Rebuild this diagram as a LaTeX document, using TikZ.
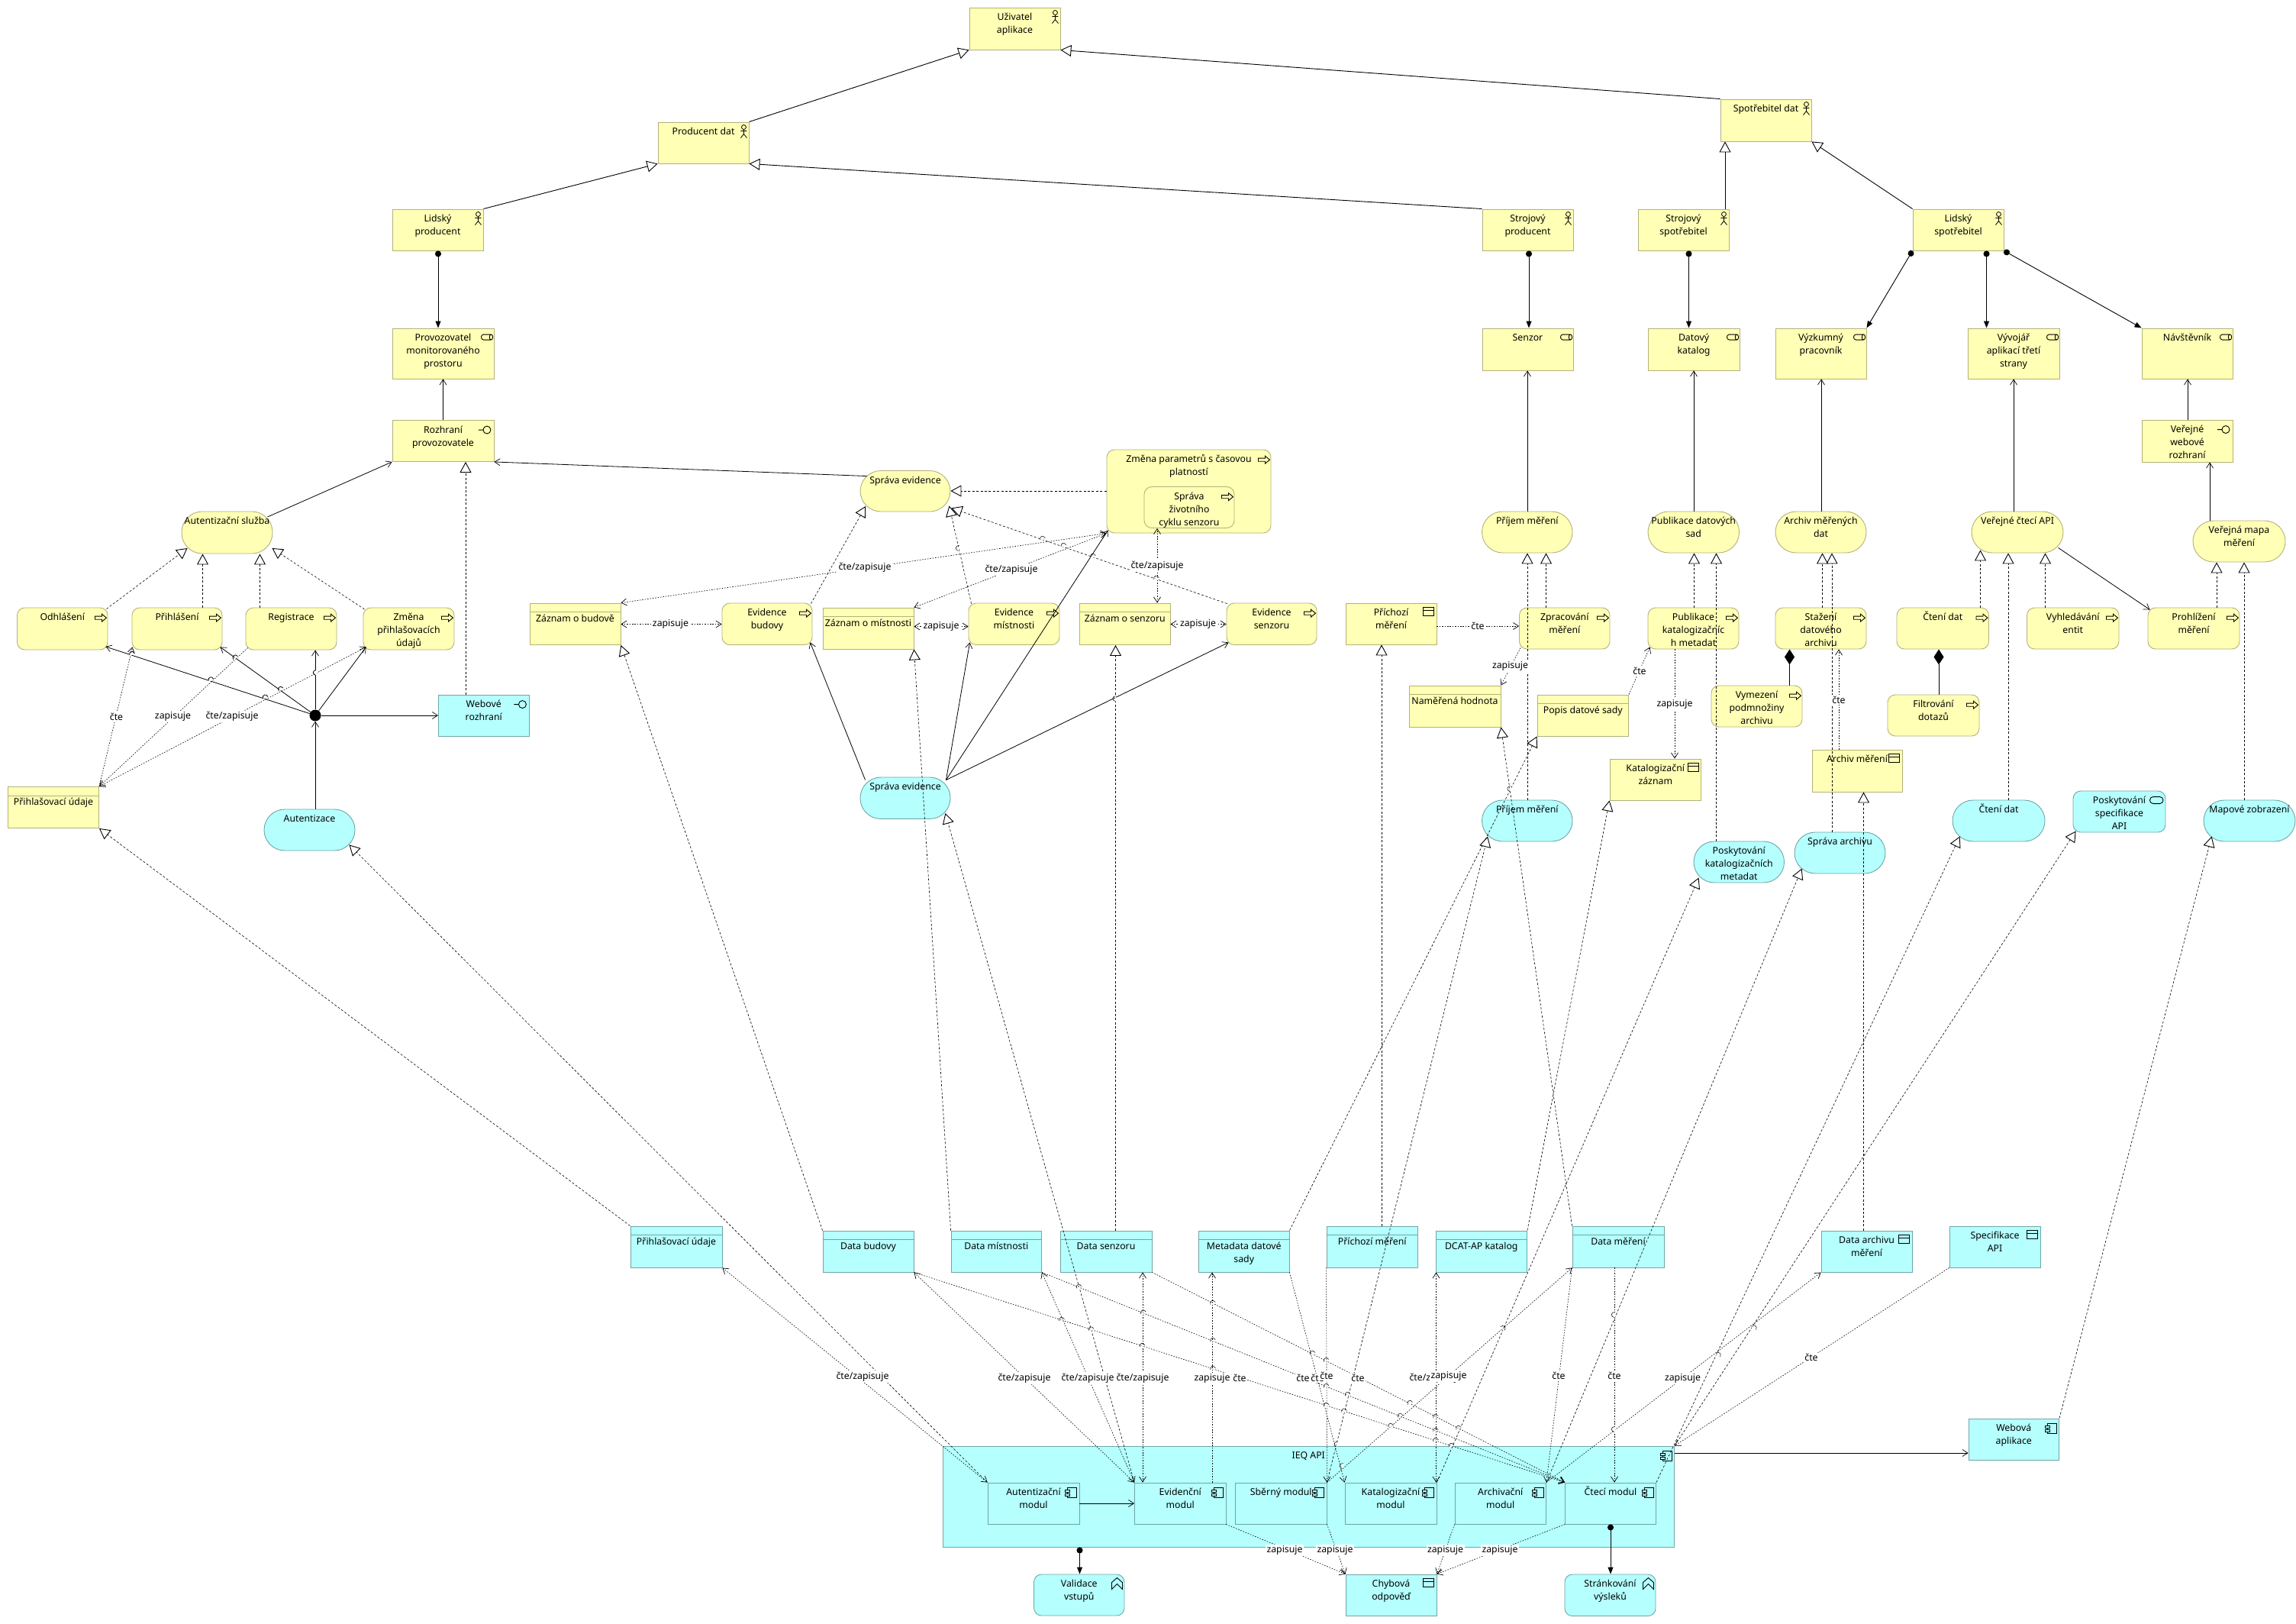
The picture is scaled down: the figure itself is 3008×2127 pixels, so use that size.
\documentclass[tikz,border=0pt]{standalone}
\usepackage{fontspec}
\setmainfont{Noto Sans}
\usetikzlibrary{arrows.meta,calc}
\definecolor{yf}{RGB}{255,255,181}
\definecolor{yl}{RGB}{178,178,126}
\definecolor{bf}{RGB}{181,255,255}
\definecolor{bl}{RGB}{112,166,166}
\colorlet{hdryel}{yl}
\colorlet{hdrblu}{bl}
\tikzset{
 elt/.style={draw,inner sep=0pt,line width=.9pt,rectangle},
 yel/.style={elt,fill=yf,draw=yl},
 blu/.style={elt,fill=bf,draw=bl},
 rc/.style={rounded corners=10pt},
 pill/.style={rounded corners=27pt},
 txt/.style={inner sep=0pt,align=center,font=\fontsize{12.3}{17}\selectfont,text=black},
 lbl/.style={inner sep=1.5pt,fill=white,align=center,font=\fontsize{12.3}{17}\selectfont,text=black},
 ic/.style={line width=.9pt,draw=black},
 gen/.style={line width=.9pt,-{Triangle[open,fill=white,length=14pt,width=15pt,line width=.9pt]}},
 real/.style={line width=.6pt,dash pattern=on 3pt off 2.4pt,-{Triangle[open,fill=white,length=14pt,width=15pt,line width=.9pt]}},
 asg/.style={line width=.9pt,{Circle[length=8pt]}-{Triangle[length=9pt,width=7pt]}},
 srv/.style={line width=.8pt,-{Straight Barb[length=7pt,width=9pt,line width=.7pt]}},
 acc/.style={line width=.6pt,dash pattern=on 1.6pt off 1.8pt,-{Straight Barb[length=7pt,width=9pt,line width=.7pt]}},
 acb/.style={line width=.6pt,dash pattern=on 1.6pt off 1.8pt,{Straight Barb[length=7pt,width=9pt,line width=.7pt]}-{Straight Barb[length=7pt,width=9pt,line width=.7pt]}},
 cmp/.style={line width=.9pt,-{Diamond[length=20pt,width=13pt]}},
}
\newcommand{\el}[7]{%
 \node[#2,minimum width={(#5-#3)*1pt},minimum height={(#6-#4)*1pt}] (#1) at ({(#3+#5)/2},{(#4+#6)/2}) {};
 \node[txt,anchor=north] (#1-t) at ([yshift=-5pt]#1.north) {\strut #7};}
\newcommand{\eld}[8]{%
 \node[#2,minimum width={(#5-#3)*1pt},minimum height={(#6-#4)*1pt}] (#1) at ({(#3+#5)/2},{(#4+#6)/2}) {};
 \draw[line width=.9pt,draw=hdr#2] ([yshift=-12pt]#1.north west) -- ([yshift=-12pt]#1.north east);
 \node[txt,anchor=north] (#1-t) at ([yshift=-12.5pt]#1.north) {\strut #7};}
\newcommand{\icact}[1]{\begin{scope}[shift={(#1.north east)}]\draw[ic,line width=.8pt] (-7,7) circle (3) (-7,10)--(-7,16) (-11,12)--(-3,12) (-11,21)--(-7,16)--(-3,21);\end{scope}}
\newcommand{\icrole}[1]{\begin{scope}[shift={(#1.north east)}]\draw[ic] (-4,8.5)--(-14,8.5) .. controls (-18,8.5) and (-18,15.5) .. (-14,15.5)--(-4,15.5) (-4,12) ellipse (2.2 and 3.5);\end{scope}}
\newcommand{\icint}[1]{\begin{scope}[shift={(#1.north east)}]\draw[ic] (-9.5,13) circle (5) (-20.5,13)--(-14.5,13);\end{scope}}
\newcommand{\icpro}[1]{\begin{scope}[shift={(#1.north east)}]\draw[ic] (-17,11.5)--(-8,11.5)--(-8,8.7)--(-2,13.6)--(-8,18.6)--(-8,15.7)--(-17,15.7)--cycle;\end{scope}}
\newcommand{\icdat}[1]{\begin{scope}[shift={(#1.north east)}]\draw[ic] (-18,6) rectangle (-4,17) (-18,9.5)--(-4,9.5);\end{scope}}
\newcommand{\iccom}[1]{\begin{scope}[shift={(#1.north east)}]\draw[ic] (-16,6.5) rectangle (-4,20);\draw[ic,fill=bf] (-19,9.5) rectangle (-13,12.5) (-19,14.5) rectangle (-13,17.5);\end{scope}}
\newcommand{\iccon}[1]{\begin{scope}[shift={(#1.north east)}]\draw[ic] (-17,20)--(-17,11)--(-10,5)--(-3,11)--(-3,20)--(-10,13)--cycle;\end{scope}}
\newcommand{\icsvc}[1]{\begin{scope}[shift={(#1.north east)}]\draw[ic,rounded corners=4.4pt] (-21,8) rectangle (-3.5,17);\end{scope}}
\newcommand{\hop}[3]{\begin{scope}[shift={(#1,#2)},rotate=#3]\draw[white,line width=1.8pt] (-3.5,0)--(3.5,0);\draw[line width=.8pt] (-3.5,0) .. controls (-3,-5) and (3,-5) .. (3.5,0);\end{scope}}
\newcommand{\hopd}[3]{\begin{scope}[shift={(#1,#2)},rotate=#3]\draw[white,line width=1.6pt] (-3.5,0)--(3.5,0);\draw[line width=.5pt] (-3.5,0) .. controls (-3,-5) and (3,-5) .. (3.5,0);\end{scope}}
\begin{document}
\begin{tikzpicture}[x=1pt,y=-1pt]
\useasboundingbox (0,0) rectangle (3008,2127);
\fill[white] (0,0) rectangle (3008,2127);
% ---------- actors / roles
\el{uz}{yel}{1270}{10}{1389}{65}{Uživatel\\aplikace}\icact{uz}
\el{pd}{yel}{862}{160}{981}{214}{Producent dat}\icact{pd}
\el{lp}{yel}{514}{274}{633}{328}{Lidský\\producent}\icact{lp}
\el{sp}{yel}{1942}{274}{2061}{328}{Strojový\\producent}\icact{sp}
\el{sd}{yel}{2254}{130}{2373}{185}{Spotřebitel dat}\icact{sd}
\el{ss}{yel}{2146}{274}{2265}{328}{Strojový\\spotřebitel}\icact{ss}
\el{ls}{yel}{2506}{274}{2625}{328}{Lidský\\spotřebitel}\icact{ls}
\el{prov}{yel}{514}{430}{647}{496}{Provozovatel\\monitorovaného\\prostoru}\icrole{prov}
\el{sen}{yel}{1942}{430}{2061}{485}{Senzor}\icrole{sen}
\el{dk}{yel}{2159}{430}{2279}{485}{Datový\\katalog}\icrole{dk}
\el{vp}{yel}{2326}{430}{2445}{496}{Výzkumný\\pracovník}\icrole{vp}
\el{va}{yel}{2578}{430}{2698}{496}{Vývojář\\aplikací třetí\\strany}\icrole{va}
\el{nav}{yel}{2806}{430}{2925}{496}{Návštěvník}\icrole{nav}
\el{vwr}{yel}{2806}{550}{2925}{605}{Veřejné\\webové\\rozhraní}\icint{vwr}
\el{roz}{yel}{514}{550.5}{647}{604.5}{Rozhraní\\provozovatele}\icint{roz}
% ---------- left group
\el{auts}{yel,pill}{238}{670}{357}{725}{Autentizační služba}
\el{odh}{yel,rc}{22.5}{796}{141}{851}{Odhlášení}\icpro{odh}
\el{pri}{yel,rc}{173}{796}{291}{851}{Přihlášení}\icpro{pri}
\el{reg}{yel,rc}{322}{796}{441}{851}{Registrace}\icpro{reg}
\el{zme}{yel,rc}{476}{796}{595}{851}{Změna\\přihlašovacích\\údajů}\icpro{zme}
\el{webr}{blu}{574}{910}{693.5}{964}{Webové\\rozhraní}\icint{webr}
\eld{pyel}{yel}{10.5}{1030.5}{129.5}{1084.5}{Přihlašovací údaje}{}
\el{aut}{blu,pill}{346}{1060}{465}{1114}{Autentizace}
\node[circle,fill=black,inner sep=0pt,minimum size=15pt] (jn) at (413,937) {};
% ---------- evidence group
\el{sey}{yel,pill}{1127}{616.5}{1245}{670}{Správa evidence}
\el{zpar}{yel,rc}{1450}{589}{1665}{698}{Změna parametrů s časovou\\platností}\icpro{zpar}
\el{szc}{yel,rc}{1499}{637.5}{1617}{691.5}{Správa\\životního\\cyklu senzoru}\icpro{szc}
\eld{zbu}{yel}{694}{790}{813}{844.5}{Záznam o budově}{}
\el{evb}{yel,rc}{946}{790}{1064}{844.5}{Evidence\\budovy}\icpro{evb}
\eld{zmi}{yel}{1078}{796}{1197}{850}{Záznam o místnosti}{}
\el{evm}{yel,rc}{1269}{790}{1388}{844.5}{Evidence\\místnosti}\icpro{evm}
\eld{zse}{yel}{1414.5}{790}{1533}{844.5}{Záznam o senzoru}{}
\el{evs}{yel,rc}{1607}{790}{1725}{844.5}{Evidence\\senzoru}\icpro{evs}
\el{seb}{blu,pill}{1127}{1018}{1245}{1072.5}{Správa evidence}
% ---------- measurement group
\el{pmy}{yel,pill}{1941.5}{670}{2060}{724}{Příjem měření}
\el{pds}{yel,pill}{2159}{670}{2278.5}{724}{Publikace datových\\sad}
\el{amd}{yel,pill}{2326}{670}{2445}{724}{Archiv měřených\\dat}
\el{api}{yel,pill}{2583}{670}{2703}{724}{Veřejné čtecí API}
\el{vmm}{yel,pill}{2873}{682}{2994}{736}{Veřejná mapa\\měření}
\el{pry}{yel}{1763}{790}{1882}{844}{Příchozí\\měření}\icdat{pry}
\el{zpm}{yel,rc}{1990.5}{796}{2109}{850}{Zpracování\\měření}\icpro{zpm}
\el{pkm}{yel,rc}{2159}{796}{2278}{850}{Publikace\\katalogizačníc\\h metadat}\icpro{pkm}
\el{sta}{yel,rc}{2326}{796}{2445}{850}{Stažení\\datového\\archivu}\icpro{sta}
\el{cdy}{yel,rc}{2485}{796}{2605.5}{850}{Čtení dat}\icpro{cdy}
\el{vyh}{yel,rc}{2655.5}{796}{2776}{850}{Vyhledávání\\entit}\icpro{vyh}
\el{pro}{yel,rc}{2814}{796}{2934}{850}{Prohlížení\\měření}\icpro{pro}
\eld{nam}{yel}{1846}{898}{1966}{952}{Naměřená hodnota}{}
\eld{pop}{yel}{2014}{910}{2133.5}{964}{Popis datové sady}{}
\el{vym}{yel,rc}{2242}{898}{2361}{952}{Vymezení\\podmnožiny\\archivu}\icpro{vym}
\el{fil}{yel,rc}{2473}{910}{2593}{964}{Filtrování\\dotazů}\icpro{fil}
\el{kat}{yel}{2109}{994}{2228.5}{1048}{Katalogizační\\záznam}\icdat{kat}
\el{arm}{yel}{2374}{982}{2492}{1037}{Archiv měření}\icdat{arm}
\el{pmb}{blu,pill}{1941.5}{1048}{2060}{1102}{Příjem měření}
\el{pos}{blu,pill}{2219}{1102}{2337.5}{1156}{Poskytování\\katalogizačních\\metadat}
\el{sar}{blu,pill}{2351}{1090}{2470}{1144}{Správa archivu}
\el{cdb}{blu,pill}{2558}{1048}{2679}{1102}{Čtení dat}
\el{psa}{blu,rc}{2716}{1036}{2837}{1090}{Poskytování\\specifikace\\API}\icsvc{psa}
\el{maz}{blu,pill}{2887}{1048}{3007}{1102}{Mapové zobrazení}
% ---------- data row
\eld{dpu}{blu}{826}{1606}{946}{1660}{Přihlašovací údaje}{}
\eld{dbu}{blu}{1078}{1612}{1197}{1666}{Data budovy}{}
\eld{dmi}{blu}{1246}{1612}{1364.5}{1666}{Data místnosti}{}
\eld{dse}{blu}{1389}{1612}{1509}{1666}{Data senzoru}{}
\eld{mds}{blu}{1570.5}{1612}{1689}{1666}{Metadata datové\\sady}{}
\eld{pbl}{blu}{1738}{1606}{1857.5}{1660}{Příchozí měření}{}
\eld{dca}{blu}{1881}{1612}{2000.5}{1666}{DCAT-AP katalog}{}
\eld{dme}{blu}{2060}{1606}{2180}{1660}{Data měření}{}
\el{dar}{blu}{2386}{1612}{2505}{1666}{Data archivu\\měření}\icdat{dar}
\el{spe}{blu}{2554}{1606}{2673}{1660}{Specifikace\\API}\icdat{spe}
\el{weba}{blu}{2579}{1858}{2697.5}{1912.5}{Webová\\aplikace}\iccom{weba}
% ---------- API
\el{ieq}{blu}{1235}{1894}{2193.5}{2026}{IEQ API}\iccom{ieq}
\el{mau}{blu}{1294}{1942}{1414}{1996}{Autentizační\\modul}\iccom{mau}
\el{mev}{blu}{1486.5}{1942}{1606}{1996}{Evidenční\\modul}\iccom{mev}
\el{msb}{blu}{1618.5}{1942}{1738}{1996}{Sběrný modul}\iccom{msb}
\el{mka}{blu}{1762}{1942}{1882}{1996}{Katalogizační\\modul}\iccom{mka}
\el{mar}{blu}{1906}{1942}{2025.5}{1996}{Archivační\\modul}\iccom{mar}
\el{mct}{blu}{2050.5}{1942}{2169.5}{1996}{Čtecí modul}\iccom{mct}
\el{val}{blu,rc}{1354.5}{2062}{1473}{2116}{Validace\\vstupů}\iccon{val}
\el{chy}{blu}{1763}{2062}{1882}{2116}{Chybová\\odpověď}\icdat{chy}
\el{str}{blu,rc}{2050}{2062}{2169}{2116.5}{Stránkování\\výsleků}\iccon{str}
% ---------- specialization
\draw[gen] (pd.north east) -- (uz.south west);
\draw[gen] (sd.north west) -- (uz.south east);
\draw[gen] (lp.north east) -- (pd.south west);
\draw[gen] (sp.north west) -- (pd.south east);
\draw[gen] (2260,0 |- ss.north) -- (2260,0 |- sd.south);
\draw[gen] (ls.north west) -- (sd.south east);
% ---------- assignment
\draw[asg] (574,0 |- lp.south) -- (574,0 |- prov.north);
\draw[asg] (2003,0 |- sp.south) -- (2003,0 |- sen.north);
\draw[asg] (2212.5,0 |- ss.south) -- (2212.5,0 |- dk.north);
\draw[asg] (ls.south west) -- (vp.north east);
\draw[asg] (2602.5,0 |- ls.south) -- (2602.5,0 |- va.north);
\draw[asg] (ls.south east) -- (nav.north west);
\draw[asg] (2110,0 |- mct.south) -- (2110,0 |- str.north);
\draw[asg] (1414.5,0 |- ieq.south) -- (1414.5,0 |- val.north);
% ---------- serving
\draw[srv] (580.5,0 |- roz.north) -- (580.5,0 |- prov.south);
\draw[srv] ([xshift=-7pt,yshift=-7.5pt]auts.north east) -- (roz.south west);
\draw[srv] ([xshift=9pt,yshift=-7.5pt]sey.north west) -- (roz.south east);
\draw[srv] (2001,0 |- pmy.north) -- (2001,0 |- sen.south);
\draw[srv] (2219,0 |- pds.north) -- (2219,0 |- dk.south);
\draw[srv] (2386,0 |- amd.north) -- (2386,0 |- vp.south);
\draw[srv] (2638,0 |- api.north) -- (2638,0 |- va.south);
\draw[srv] (2895,0 |- vmm.north) -- (2895,0 |- vwr.south);
\draw[srv] (2866,0 |- vwr.north) -- (2866,0 |- nav.south);
\draw[srv] ([xshift=-7pt,yshift=7pt]api.south east) -- ([xshift=3pt,yshift=-3pt]pro.north west);
\draw[srv] (jn) -- ([xshift=-3pt,yshift=4.5pt]odh.south east);
\draw[srv] (jn) -- ([xshift=-3pt,yshift=4pt]pri.south east);
\draw[srv] (jn) -- (413,0 |- reg.south);
\draw[srv] (jn) -- ([xshift=4pt,yshift=4pt]zme.south west);
\draw[srv] (jn) -- (574,937 |- webr.west);
\draw[srv] (413,0 |- aut.north) -- (jn);
\draw[srv] ([xshift=7pt,yshift=-4pt]seb.north west) -- ([xshift=-3pt,yshift=3.5pt]evb.south east);
\draw[srv] ([xshift=-6pt,yshift=-4pt]seb.north east) -- ([xshift=2pt,yshift=3.5pt]evm.south west);
\draw[srv] ([xshift=-6pt,yshift=-4pt]seb.north east) -- ([xshift=2pt,yshift=4pt]zpar.south west);
\draw[srv] ([xshift=-6pt,yshift=-4pt]seb.north east) -- ([xshift=3pt,yshift=3.5pt]evs.south west);
\draw[srv] (ieq.east |- 0,1903) -- (weba.west |- 0,1903);
\draw[srv] (mau.east |- 0,1969) -- (mev.west |- 0,1969);
% ---------- composition
\draw[cmp] (2344.5,0 |- vym.north) -- (2344.5,0 |- sta.south);
\draw[cmp] (2540,0 |- fil.north) -- (2540,0 |- cdy.south);
% ---------- realization
\draw[real] (610,0 |- webr.north) -- (610,0 |- roz.south);
\draw[real] ([xshift=-2pt,yshift=-2pt]odh.north east) -- ([xshift=8pt,yshift=7.5pt]auts.south west);
\draw[real] (265.5,0 |- pri.north) -- (265.5,0 |- auts.south);
\draw[real] (340.5,0 |- reg.north) -- (340.5,0 |- auts.south);
\draw[real] ([xshift=2pt,yshift=-2.5pt]zme.north west) -- ([xshift=-1pt,yshift=7.5pt]auts.south east);
\draw[real] (dpu.north west) -- (pyel.south east);
\draw[real] (mau.north west) -- ([xshift=-8pt,yshift=8pt]aut.south east);
\draw[real] (dbu.north west) -- (zbu.south east);
\draw[real] (dmi.north west) -- (zmi.south east);
\draw[real] (1461.5,0 |- dse.north) -- (1461.5,0 |- zse.south);
\draw[real] (mev.north west) -- ([xshift=-7pt,yshift=8pt]seb.south east);
\draw[real] ([xshift=-2pt,yshift=-1pt]evb.north east) -- ([xshift=7.5pt,yshift=7.5pt]sey.south west);
\draw[real] ([xshift=4pt,yshift=-1pt]evm.north west) -- ([xshift=-2pt,yshift=8pt]sey.south east);
\draw[real] ([xshift=1pt,yshift=-1pt]evs.north west) -- ([xshift=1pt,yshift=5pt]sey.south east);
\draw[real] (zpar.west |- 0,643) -- (sey.east |- 0,643);
\draw[real] (1810,0 |- pbl.north) -- (1810,0 |- pry.south);
\draw[real] (mds.north east) -- (pop.south west);
\draw[real] (dme.north west) -- (nam.south east);
\draw[real] (dca.north east) -- (kat.south west);
\draw[real] (2441.5,0 |- dar.north) -- (2441.5,0 |- arm.south);
\draw[real] (2001,0 |- pmb.north) -- (2001,0 |- pmy.south);
\draw[real] (2025.5,0 |- zpm.north) -- (2025.5,0 |- pmy.south);
\draw[real] (msb.north east) -- ([xshift=8pt,yshift=7pt]pmb.south west);
\draw[real] (2248.5,0 |- pos.north) -- (2248.5,0 |- pds.south);
\draw[real] (2219.5,0 |- pkm.north) -- (2219.5,0 |- pds.south);
\draw[real] (mka.north east) -- ([xshift=7pt,yshift=7pt]pos.south west);
\draw[real] (2400,0 |- sar.north) -- (2400,0 |- amd.south);
\draw[real] (2387.5,0 |- sta.north) -- (2387.5,0 |- amd.south);
\draw[real] (mar.north east) -- ([xshift=10pt,yshift=7pt]sar.south west);
\draw[real] (2594.5,0 |- cdy.north) -- ([yshift=4pt]2594.5,0 |- api.south);
\draw[real] (2631,0 |- cdb.north) -- (2631,0 |- api.south);
\draw[real] (2679.5,0 |- vyh.north) -- (2679.5,0 |- api.south);
\draw[real] (2904,0 |- pro.north) -- (2904,0 |- vmm.south);
\draw[real] (2940,0 |- maz.north) -- (2940,0 |- vmm.south);
\draw[real] (mct.north east) -- ([xshift=10pt,yshift=7pt]cdb.south west);
\draw[real] (ieq.north east) -- ([xshift=4pt,yshift=2pt]psa.south west);
\draw[real] (weba.north east) -- ([xshift=11pt,yshift=7pt]maz.south west);
% ---------- access
\draw[acc] (pyel.north east) -- ([xshift=1pt,yshift=4pt]pri.south west);
\draw[acc] ([xshift=3pt,yshift=3pt]reg.south west) -- (pyel.north east);
\draw[acb] ([xshift=4pt,yshift=4pt]zme.south west) -- (pyel.north east);
\draw[acb] (zbu.north east) -- (zpar.south west);
\draw[acb] (zmi.north east) -- (zpar.south west);
\draw[acb] (1516,0 |- zse.north) -- (1516,0 |- szc.south);
\draw[acb] (zbu.east |- 0,817.5) -- (evb.west |- 0,817.5);
\draw[acb] (zmi.east |- 0,820.5) -- (evm.west |- 0,820.5);
\draw[acb] (zse.east |- 0,817.5) -- (evs.west |- 0,817.5);
\draw[acc] (pry.east |- 0,820) -- (zpm.west |- 0,820);
\draw[acc] ([xshift=2pt,yshift=2pt]zpm.south west) -- (nam.north east);
\draw[acc] (pop.north east) -- ([xshift=3pt,yshift=3pt]pkm.south west);
\draw[acc] (2194,0 |- pkm.south) -- (2194,0 |- kat.north);
\draw[acc] (2409,0 |- arm.north) -- (2409,0 |- sta.south);
\draw[acb] (dpu.south east) -- (mau.north west);
\draw[acb] (dbu.south east) -- (mev.north west);
\draw[acb] (dmi.south east) -- (mev.north west);
\draw[acb] (1497,0 |- dse.south) -- (1497,0 |- mev.north);
\draw[acc] (1588,0 |- mev.north) -- (1588,0 |- mds.south);
\draw[acc] (dbu.south east) -- (mct.north west);
\draw[acc] (dmi.south east) -- (mct.north west);
\draw[acc] (dse.south east) -- (mct.north west);
\draw[acc] (mds.south east) -- (mka.north west);
\draw[acc] (pbl.south west) -- (msb.north east);
\draw[acb] (1881.5,0 |- dca.south) -- (1881.5,0 |- mka.north);
\draw[acc] (msb.north east) -- (dme.south west);
\draw[acc] (dme.south west) -- (mar.north east);
\draw[acc] (2115,0 |- dme.south) -- (2115,0 |- mct.north);
\draw[acc] (mar.north east) -- (dar.south west);
\draw[acc] (spe.south west) -- (ieq.north east);
\draw[acc] (mev.south east) -- (chy.north west);
\draw[acc] (msb.south east) -- (chy.north west);
\draw[acc] (mar.south west) -- (chy.north east);
\draw[acc] (mct.south west) -- (chy.north east);
% ---------- line hops
\hop{173}{857}{18.3}\hop{276.5}{890.5}{18.3}\hop{347.7}{913.7}{18.3}
\hop{308.5}{861.5}{35.8}\hop{368}{903}{35.8}\hop{414}{881}{90}
\hopd{1413.7}{1686}{21.9}\hopd{1497.9}{1719.5}{21.9}\hopd{1589}{1756}{21.9}
\hopd{1737.7}{1816}{21.9}\hopd{1765.7}{1827}{21.9}\hopd{1834.6}{1855}{21.9}\hopd{1881}{1874}{21.9}
\hopd{1391}{1729}{17.9}\hopd{1429.6}{1741.5}{17.9}\hopd{1496.6}{1763}{17.9}\hopd{1589}{1793}{17.9}
\hopd{1737.7}{1841}{17.9}\hopd{1761}{1848.5}{17.9}\hopd{1822}{1868}{17.9}\hopd{1881}{1887}{17.9}\hopd{1901.6}{1894}{17.9}
\hopd{1589}{1707}{27}\hopd{1719.8}{1773}{27}\hopd{1737.7}{1782}{27}\hopd{1847.4}{1838}{27}\hopd{1881}{1856}{27}\hopd{1911}{1871}{27}
\hopd{1751.7}{1891.7}{75}\hopd{1759}{1920}{75}
\hopd{1968.5}{1740}{-41}\hopd{2115}{1722}{90}\hopd{2115}{1872}{90}
\hopd{2297.7}{1739.5}{-37.5}\hopd{2250.7}{1775}{-37.5}
\hopd{1461.5}{915}{90}
\hopd{1366}{706}{19}\hopd{1393.4}{715}{19}\hopd{1432}{729}{19}\hopd{1515}{758}{19}
\hopd{1256}{718}{77}\hopd{1978.6}{1033}{82}
% ---------- labels
\node[lbl] (l01) at (152.5,938.5) {čte};
\node[lbl] (l02) at (226.5,938.5) {zapisuje};
\node[lbl] (l03) at (304,938.5) {čte/zapisuje};
\node[lbl] (l04) at (1133,743) {čte/zapisuje};
\node[lbl] (l05) at (1325,746) {čte/zapisuje};
\node[lbl] (l06) at (1516,741) {čte/zapisuje};
\node[lbl] (l07) at (878.5,817.5) {zapisuje};
\node[lbl] (l08) at (1233,820.5) {zapisuje};
\node[lbl] (l09) at (1569.5,817.5) {zapisuje};
\node[lbl] (l10) at (1936,820) {čte};
\node[lbl] (l11) at (1978.5,872.5) {zapisuje};
\node[lbl] (l12) at (2148,878.5) {čte};
\node[lbl] (l13) at (2194,922.5) {zapisuje};
\node[lbl] (l14) at (2409,916.5) {čte};
\node[lbl] (l15) at (1130,1803) {čte/zapisuje};
\node[lbl] (l16) at (1342,1805) {čte/zapisuje};
\node[lbl] (l17) at (1425,1805) {čte/zapisuje};
\node[lbl] (l18) at (1497,1805) {čte/zapisuje};
\node[lbl] (l19) at (1588,1805) {zapisuje};
\node[lbl] (l20) at (1624,1805) {čte};
\node[lbl] (l21) at (1707,1805) {čte};
\node[lbl] (l22) at (1726,1805) {čte};
\node[lbl] (l23) at (1738,1802) {čte};
\node[lbl] (l24) at (1779,1805) {čte};
\node[lbl] (l25) at (1881,1805) {čte/zapisuje};
\node[lbl] (l26) at (1898,1802) {zapisuje};
\node[lbl] (l27) at (2042,1802) {čte};
\node[lbl] (l28) at (2115,1802) {čte};
\node[lbl] (l29) at (2204.5,1805) {zapisuje};
\node[lbl] (l30) at (2373,1778) {čte};
\node[lbl] (l31) at (1683,2030) {zapisuje};
\node[lbl] (l32) at (1749,2030) {zapisuje};
\node[lbl] (l33) at (1893.5,2030) {zapisuje};
\node[lbl] (l34) at (1965,2030) {zapisuje};
\end{tikzpicture}
\end{document}
